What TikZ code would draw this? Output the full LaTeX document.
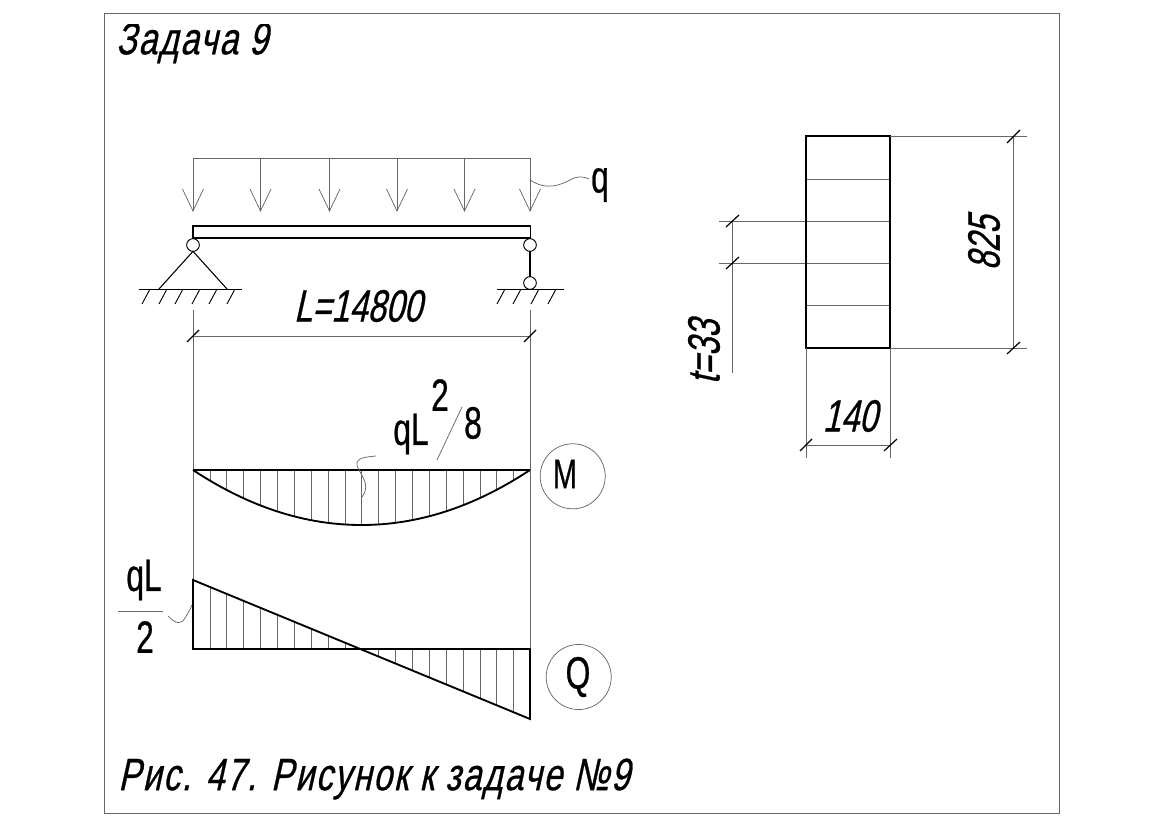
\documentclass[tikz,border=0pt]{standalone}
\usepackage{fontspec}
\newfontfamily\gostup[FakeStretch=0.7,FakeBold=0.6]{Liberation Sans}
\newfontfamily\gostit[FakeStretch=0.72,FakeSlant=0.22,FakeBold=0.6]{Liberation Sans}
\newfontfamily\gostcap[FakeStretch=0.74,FakeSlant=0.22,LetterSpace=4,FakeBold=0.6]{Liberation Sans}
\usetikzlibrary{calc}
\definecolor{thinline}{gray}{0.4}
\tikzset{
thinl/.style = {draw=thinline, line width=0.55pt},
thickl/.style = {draw=black, line width=1.4pt},
tickl/.style = {draw=black, line width=0.9pt},
hinge/.style = {circle, draw=black, line width=0.7pt, fill=white, minimum size=#1,
                inner sep=0pt, outer sep=0pt},
hinge/.default = 9.5pt, % size of the circle diameter
mark circ/.style = {circle, draw=thinline, line width=0.55pt, minimum size=48.8pt,
                inner sep=0pt},
uptext/.style = {font=\gostup\fontsize{#1}{#1}\selectfont, inner sep=0pt},
uptext/.default = 34pt,
ittext/.style = {font=\gostit\fontsize{34}{34}\selectfont, inner sep=0pt},
captext/.style = {font=\gostcap\fontsize{34}{34}\selectfont, inner sep=0pt, anchor=west}
}

\begin{document}
\begin{tikzpicture}[x=0.75pt, y=-0.75pt]
  \useasboundingbox (0,0) rectangle (1165,824);
  \draw[thinl] (104.5,13.5) rectangle (1059.5,813);

  % Title
  \begin{scope}
    \clip (105,25) rectangle (400,70);
    \node[captext] (titleText) at (116,43) {Задача 9};
  \end{scope}
  \node[captext] (captionText) at (118,779) {Рис. 47. Рисунок к задаче №9};

  % Load
  \draw[thinl] (193,211) -- (193,158) -- (530,158) -- (530,211);
  \foreach \x in {193,260.5,329.5,397,464.5,530} {
    \draw[thinl] (\x,158) -- (\x,211);
    \draw[thinl] (\x-10.5,189) -- (\x,211) -- (\x+10.5,189);
  }
  \node[uptext] (loadText) at (600,185) {q};
  \draw[thinl] (530,180) .. controls (547,191) and (560,185) .. (570,180) .. controls (577,176) and (582,176) .. (589,179);

  % Beam
  \draw[thickl] (193,238) rectangle (530.5,226);
  \node[hinge] (leftHinge) at (193,245) {};
  \node[hinge] (rightHinge) at (530,245) {};
  \node[hinge] (lowHinge) at (530,283) {};

  % Supports
  \coordinate (leftBaseA) at (159,289);
  \coordinate (leftBaseB) at (227,289);
  \draw[line width=0.8pt] (leftBaseA) -- (leftHinge.south) -- (leftBaseB);
  \draw[line width=0.8pt] (rightHinge) -- (lowHinge);
  \draw[line width=0.7pt] (139,289) -- (242,289);
  \draw[line width=0.7pt] (497,289) -- (564,289);
  \foreach \x in {150,167,183,200,217,235}
    \draw[line width=0.7pt] (\x,289) -- (\x-8,304);
  \foreach \x in {505,521,539,556}
    \draw[line width=0.7pt] (\x,289) -- (\x-8,304);

  % Span dimension
  \draw[thinl] (193,310) -- (193,649);
  \draw[thinl] (530,310) -- (530,649);
  \draw[thinl] (193,336) -- (530,336);
  \draw[tickl] (187,342) -- (199,330);
  \draw[tickl] (524,342) -- (536,330);
  \node[ittext] (spanText) at (358,306) {L=14800};

  % Moment diagram
  \foreach \k in {1,...,19} {
    \pgfmathsetmacro{\hx}{193+\k*16.875}
    \pgfmathsetmacro{\hy}{470+55*(1-((\k-10)/10)^2)}
    \draw[thinl] (\hx,470) -- (\hx,\hy);
  }
  \draw[thickl] (193,470) -- (530,470);
  \draw[thickl] (193,470) .. controls (249,507) and (305,525) .. (361.5,525) .. controls (418,525) and (474,507) .. (530,470);
  \node[mark circ] (momentMark) at (572.7,476.3) {};
  \node[uptext=31pt] (momentText) at (565,474) {M};
  \node[uptext] (momentQl) at (411,434) {qL};
  \node[uptext] (momentTwo) at (440,395) {2};
  \node[uptext] (momentEight) at (473,423) {8};
  \draw[thinl] (462,407) -- (437,460);
  \draw[thinl] (376,456) .. controls (365,457) and (356,458) .. (357,465) .. controls (359,474) and (372,484) .. (362,497);

  % Shear diagram
  \foreach \k in {1,...,19} {
    \pgfmathsetmacro{\hx}{193+\k*16.875}
    \pgfmathsetmacro{\hy}{580+\k*6.95}
    \draw[thinl] (\hx,649) -- (\hx,\hy);
  }
  \draw[thickl] (193,649) -- (193,580) -- (530,719) -- (530,649) -- cycle;
  \node[mark circ] (shearMark) at (578.7,677) {};
  \node[uptext] (shearText) at (578,677) {Q};
  \node[uptext] (shearQl) at (144,580) {qL};
  \draw[thinl] (118,611) -- (163,611);
  \node[uptext] (shearTwo) at (145,637) {2};
  \draw[thinl] (168,616) .. controls (176,624) and (181,625) .. (185,618) .. controls (188,613) and (190,610) .. (192,605);

  % Section
  \draw[thinl] (806,179) -- (890,179);
  \draw[thinl] (719,221) -- (890,221);
  \draw[thinl] (719,263) -- (890,263);
  \draw[thinl] (806,305) -- (890,305);
  \draw[thickl] (806,136) rectangle (890,348);

  % Section dimensions
  \draw[thinl] (890,136) -- (1027,136);
  \draw[thinl] (890,348) -- (1027,348);
  \draw[thinl] (1013,136) -- (1013,348);
  \draw[tickl] (1007,143) -- (1020,130);
  \draw[tickl] (1007,354) -- (1020,342);
  \node[ittext, rotate=90] (heightText) at (984,243) {825};

  \draw[thinl] (806,348) -- (806,458);
  \draw[thinl] (890,348) -- (890,458);
  \draw[thinl] (806,445) -- (890,445);
  \draw[tickl] (800,451) -- (812,439);
  \draw[tickl] (884,451) -- (897,439);
  \node[ittext] (widthText) at (850,416) {140};

  \draw[thinl] (732,221) -- (732,373);
  \draw[tickl] (726,227) -- (739,215);
  \draw[tickl] (726,269) -- (739,257);
  \node[ittext, rotate=90] (pitchText) at (704,352) {t=33};
\end{tikzpicture}
\end{document}
